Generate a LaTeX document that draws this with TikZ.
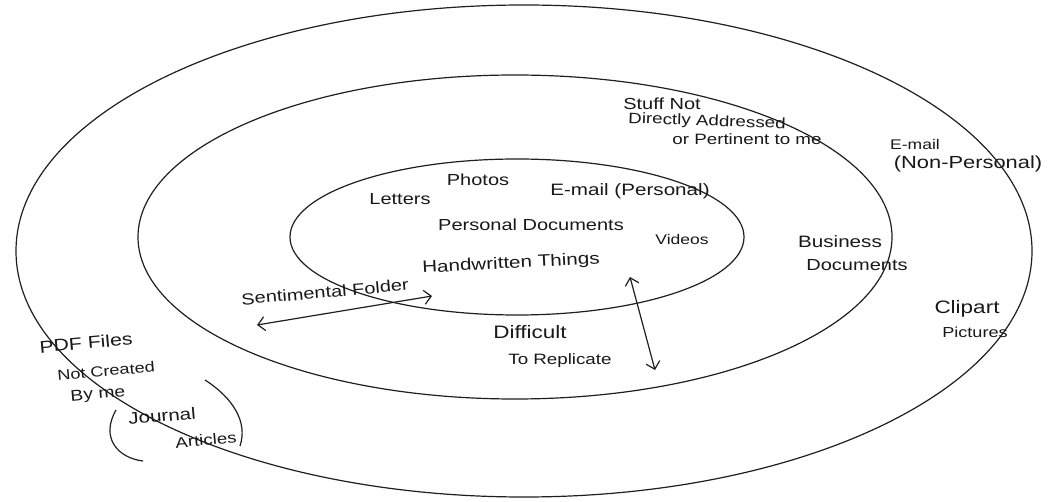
\documentclass[tikz,border=0pt]{standalone}
\usepackage{fontspec}
\setmainfont{Liberation Sans}[FakeStretch=1.25]
\usetikzlibrary{arrows.meta}

\newcommand{\fs}[1]{\fontsize{#1}{#1}\selectfont}

\tikzset{
  ring/.style={line width=1.2pt, draw=black!88},
  lbl/.style={inner sep=0pt, text=black!90, font=\fs{16}},
  twoway/.style={line width=1.2pt, draw=black!88,
    {Straight Barb[length=7pt,width=14pt,line width=1.2pt]}-{Straight Barb[length=7pt,width=14pt,line width=1.2pt]}},
  brace/.style={line width=1.2pt, draw=black!88}
}

\begin{document}
\begin{tikzpicture}[x=1pt,y=-1pt]
  \useasboundingbox[fill=white] (0,0) rectangle (1049,502);

  % three nested rings
  \draw[ring] (524,251) ellipse [x radius=508, y radius=246];
  \draw[ring] (515,237) ellipse [x radius=377, y radius=162];
  \draw[ring] (517,237) ellipse [x radius=227, y radius=78];

  % inner ring
  \node[lbl] (photos)  at (478,180) {Photos};
  \node[lbl] (letters) at (400,199) {Letters};
  \node[lbl, font=\fs{16.5}] (emailp) at (630,191) {E-mail (Personal)};
  \node[lbl] (persdoc) at (531,225) {Personal Documents};
  \node[lbl, font=\fs{14}] (videos) at (682,239) {Videos};
  \node[lbl, font=\fs{16.5}, rotate=3] (handw) at (511,264) {Handwritten Things};

  % middle ring
  \node[lbl] (stuff) at (662,104) {Stuff Not};
  \node[lbl, font=\fs{15}, rotate=-2] (direct) at (707,122) {Directly Addressed};
  \node[lbl, font=\fs{15}] (pert) at (747,139) {or Pertinent to me};
  \node[lbl, font=\fs{16.5}] (busi) at (840,242) {Business};
  \node[lbl] (docs) at (857,265) {Documents};
  \node[lbl, rotate=5] (senti) at (325,292) {Sentimental Folder};
  \node[lbl, font=\fs{18}] (diff) at (530,332) {Difficult};
  \node[lbl, font=\fs{15}] (repl) at (560,361) {To Replicate};

  % outer ring
  \node[lbl, font=\fs{14}] (emailn) at (915,144) {E-mail};
  \node[lbl, font=\fs{17.5}] (nonpers) at (968,164) {(Non-Personal)};
  \node[lbl, font=\fs{18}] (clip) at (967,309) {Clipart};
  \node[lbl, font=\fs{14.5}] (pict) at (975,332) {Pictures};

  % lower left, across the outer ring
  \node[lbl, font=\fs{17}, rotate=5] (pdf) at (86,343) {PDF Files};
  \node[lbl, font=\fs{14.5}, rotate=5] (notcr) at (106,371) {Not Created};
  \node[lbl, font=\fs{15.5}, rotate=5] (byme) at (98,395) {By me};
  \node[lbl, font=\fs{16.5}, rotate=5] (journ) at (162,416) {Journal};
  \node[lbl, font=\fs{15}, rotate=5] (artic) at (206,440) {Articles};
  \draw[brace] (116,410) .. controls (100,438) and (118,458) .. (143,461);
  \draw[brace] (205,380) .. controls (233,398) and (248,422) .. (240,446);

  % two-way arrows
  \coordinate (sentL) at (257,325);
  \coordinate (sentR) at (432,296);
  \draw[twoway] (sentL) -- (sentR);
  \coordinate (replT) at (630,277);
  \coordinate (replB) at (655,370);
  \draw[twoway] (replT) -- (replB);
\end{tikzpicture}
\end{document}
